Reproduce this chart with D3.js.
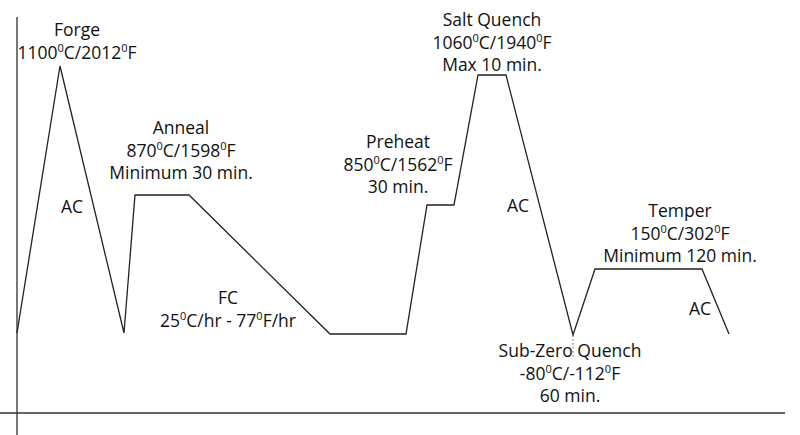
<!DOCTYPE html>
<html><head><meta charset="utf-8">
<script src="https://cdn.jsdelivr.net/npm/d3@7"></script>
<style>body{margin:0;background:#fff}svg{display:block}</style>
</head><body><svg id="c" width="800" height="435"></svg>
<script>
// schematic time (x) and temperature level (y) of each break point of the cycle
const times  = [0, 43, 107, 118, 172, 313, 389, 410, 437, 461, 489, 556, 578, 685, 712];
const levels = [80, 347, 80, 218, 218, 79, 79, 208, 208, 338, 338, 78, 144, 144, 79];
// labels: [anchor time, anchor level of first baseline, lines]
const labelTimes  = [60, 164, 211, 381, 475, 553, 663, 55, 501, 683];
const labelLevels = [377, 279, 109, 265, 387, 56, 196, 200, 201, 98];
const labelLines = [
  ["Forge", "1100^C/2012^F"],
  ["Anneal", "870^C/1598^F", "Minimum 30 min."],
  ["FC", "25^C/hr - 77^F/hr"],
  ["Preheat", "850^C/1562^F", "30 min."],
  ["Salt Quench", "1060^C/1940^F", "Max 10 min."],
  ["Sub-Zero Quench", "-80^C/-112^F", "60 min."],
  ["Temper", "150^C/302^F", "Minimum 120 min."],
  ["AC"], ["AC"], ["AC"]
];

const svg = d3.select("#c");
const x = d3.scaleLinear().domain([0, 768]).range([17, 785]);
const y = d3.scaleLinear().domain([0, 396]).range([413, 17]);

// axes
svg.append("line").attr("x1", x(0)).attr("x2", x(0)).attr("y1", y(396)).attr("y2", 435)
  .attr("stroke", "#555").attr("stroke-width", 1.6);
svg.append("line").attr("x1", 0).attr("x2", x(768)).attr("y1", y(0)).attr("y2", y(0))
  .attr("stroke", "#333").attr("stroke-width", 1.4);

// cycle line
const pts = times.map((t, i) => [t, levels[i]]);
svg.append("path").datum(pts)
  .attr("d", d3.line().x(d => x(d[0])).y(d => y(d[1])))
  .attr("fill", "none").attr("stroke", "#222").attr("stroke-width", 1.3)
  .attr("stroke-linejoin", "miter");

// dotted line under sub-zero point
svg.append("line").attr("x1", x(times[11])).attr("x2", x(times[11]))
  .attr("y1", y(levels[11])).attr("y2", y(55))
  .attr("stroke", "#666").attr("stroke-width", 1).attr("stroke-dasharray", "1.5,2.5");

// labels
const lh = 22.5;
labelLines.forEach((lines, i) => {
  const t = svg.append("text")
    .attr("x", x(labelTimes[i])).attr("y", y(labelLevels[i]))
    .attr("text-anchor", "middle")
    .attr("font-family", "Open Sans, sans-serif").attr("font-size", 17.5)
    .attr("fill", "#111");
  lines.forEach((ln, j) => {
    const parts = ln.split("^");
    parts.forEach((p, k) => {
      if (k > 0) {
        t.append("tspan").attr("dy", -6.5).attr("font-size", 11).text("0");
        t.append("tspan").attr("dy", 6.5).text(p);
      } else {
        const ts = t.append("tspan").text(p);
        ts.attr("x", x(labelTimes[i])).attr("dy", j === 0 ? 0 : lh);
      }
    });
  });
});
</script></body></html>
